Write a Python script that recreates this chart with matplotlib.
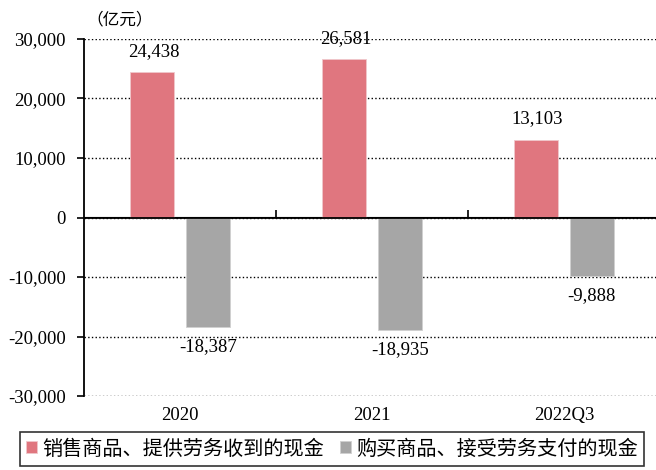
import numpy as np
import matplotlib
matplotlib.use('Agg')
from matplotlib import pyplot as plt

### Data
categories = ['2020', '2021', '2022Q3']
received = [24438, 26581, 13103]      # 销售商品、提供劳务收到的现金
paid = [-18387, -18935, -9888]        # 购买商品、接受劳务支付的现金
series_names = ['销售商品、提供劳务收到的现金', '购买商品、接受劳务支付的现金']
y_ticks = [-30000, -20000, -10000, 0, 10000, 20000, 30000]

### Styles
serif = ['Liberation Serif', 'DejaVu Serif']
cjk = ['Noto Sans CJK SC', 'DejaVu Sans']
red = '#E0767F'
grey = '#A6A6A6'

# ----------------------------------------------------------------------------

fig = plt.figure(figsize=(6.56, 4.70), dpi=100)
ax = fig.add_axes([84/656, 74/470, 576/656, 357/470])

x = np.arange(len(categories))
width = 0.23
offset = 0.145

b1 = ax.bar(x - offset, received, width, color=red, edgecolor='#F0C8CC',
            linewidth=0.6, label=series_names[0], zorder=3)
b2 = ax.bar(x + offset, paid, width, color=grey, edgecolor='#D0D0D0',
            linewidth=0.6, label=series_names[1], zorder=3)

# Data labels
for xi, v in zip(x - offset, received):
    ax.annotate(f'{v:,}', (xi, v), xytext=(1, 9), textcoords='offset points',
                ha='center', va='bottom', fontsize=13.5, family=serif)
for xi, v in zip(x + offset, paid):
    ax.annotate(f'{v:,}', (xi, v), xytext=(0, -8), textcoords='offset points',
                ha='center', va='top', fontsize=13.5, family=serif)

ax.set_xlim(-0.5, len(categories) - 0.5)
ax.set_ylim(-30000, 30000)
ax.set_yticks(y_ticks)
ax.set_yticklabels([f'{t:,}' for t in y_ticks], family=serif, fontsize=13.5)
ax.set_xticks(x)
ax.set_xticklabels(categories, family=serif, fontsize=13.5)
ax.tick_params(axis='x', length=0, pad=8)
ax.tick_params(axis='y', direction='out', length=5, width=1.2, pad=8)

# Grid and spines
ax.set_axisbelow(True)
ax.yaxis.grid(True, color='black', linestyle=':', linewidth=1.0)
ax.axhline(0, color='black', linewidth=1.3, zorder=4)
for s in ['top', 'right', 'bottom']:
    ax.spines[s].set_visible(False)
ax.spines['left'].set_linewidth(1.3)
ax.spines['left'].set_zorder(5)

# Category boundary ticks on the zero line
sec = ax.secondary_xaxis(0.5)
sec.set_xticks(x[:-1] + 0.5)
sec.set_xticklabels([])
sec.tick_params(direction='out', length=5, width=1.2)
sec.spines['bottom'].set_visible(False)

fig.text(86/656, 1 - 20/470, '（亿元）', family=cjk, fontsize=12, va='center', ha='left')

leg = fig.legend(handles=[b1, b2], loc='center', bbox_to_anchor=(332/656, 1 - 449/470),
                 ncol=2, frameon=True, fancybox=False, edgecolor='black',
                 prop={'family': cjk, 'size': 14.5}, handlelength=0.55,
                 handleheight=0.55, handletextpad=0.25, columnspacing=0.8,
                 borderpad=0.3, borderaxespad=0)
leg.get_frame().set_linewidth(1.2)

plt.savefig('out.png', dpi=100)
